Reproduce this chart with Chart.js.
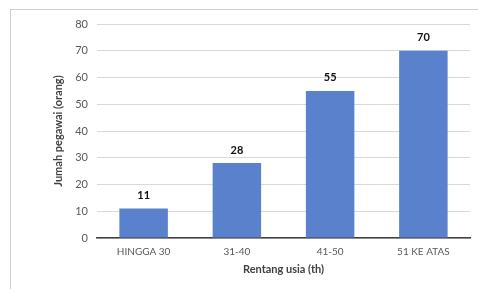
<!DOCTYPE html>
<html>
<head>
<meta charset="utf-8">
<script src="https://cdn.jsdelivr.net/npm/chart.js@4"></script>
<style>
  html, body { margin: 0; padding: 0; background: #fff; }
  #wrap { position: relative; width: 478px; height: 289px; }
  #frame { position: absolute; left: 10px; top: 9px; right: 0; bottom: 0;
           border-left: 1px solid #d0d0d0; border-top: 1px solid #d0d0d0; pointer-events: none; }
</style>
</head>
<body>
<div id="wrap">
  <canvas id="barChart" width="478" height="289"></canvas>
  <div id="frame"></div>
</div>
<script>
// BAR CHART — Jumlah pegawai per rentang usia

var categories = ["HINGGA 30", "31-40", "41-50", "51 KE ATAS"];
var pegawai = [11, 28, 55, 70];
var yTicks = [0, 10, 20, 30, 40, 50, 60, 70, 80];

var fontFamily = "Lato, 'Open Sans', sans-serif";

// value labels above each bar
var valueLabels = {
    id: "valueLabels",
    afterDatasetsDraw: function (chart) {
        var ctx = chart.ctx;
        var meta = chart.getDatasetMeta(0);
        ctx.save();
        ctx.font = "bold 11px " + fontFamily;
        ctx.fillStyle = "#111";
        ctx.textAlign = "center";
        ctx.textBaseline = "middle";
        meta.data.forEach(function (bar, i) {
            ctx.fillText(pegawai[i], bar.x, bar.y - 13);
        });
        ctx.restore();
    }
};

var bar = document.getElementById("barChart");

if (bar) {

    new Chart(bar, {
        type: "bar",

        data: {
            labels: categories,
            datasets: [
                {
                    label: "Jumlah pegawai",
                    data: pegawai,
                    backgroundColor: "#5a81cc",
                    borderWidth: 0,
                    categoryPercentage: 1,
                    barPercentage: 0.52
                }
            ]
        },

        options: {
            responsive: false,
            animation: false,
            layout: { padding: { left: 0, top: 24, right: 8, bottom: 0 } },
            plugins: {
                legend: { display: false },
                tooltip: { enabled: false }
            },
            scales: {
                x: {
                    grid: { display: false, drawTicks: false },
                    border: { display: true, color: "#404040", width: 1.5 },
                    ticks: {
                        color: "#595959",
                        padding: 8,
                        font: { family: fontFamily, size: 10 }
                    },
                    title: {
                        display: true,
                        text: "Rentang usia (th)",
                        color: "#404040",
                        padding: { top: 0, bottom: 13 },
                        font: { family: fontFamily, size: 11, weight: "bold" }
                    },
                    afterFit: function (scale) { scale.height = 51; }
                },
                y: {
                    min: 0,
                    max: 80,
                    afterBuildTicks: function (scale) {
                        scale.ticks = yTicks.map(function (v) { return { value: v }; });
                    },
                    grid: { color: "#d9d9d9", drawTicks: false, lineWidth: 1 },
                    border: { display: false },
                    ticks: {
                        color: "#595959",
                        padding: 9,
                        font: { family: fontFamily, size: 11 }
                    },
                    title: {
                        display: true,
                        text: "Jumah pegawai (orang)",
                        color: "#404040",
                        padding: { top: 52, bottom: 0 },
                        font: { family: fontFamily, size: 11, weight: "bold" }
                    },
                    afterFit: function (scale) { scale.width = 97; }
                }
            }
        },

        plugins: [valueLabels]

    });

}
</script>
</body>
</html>
